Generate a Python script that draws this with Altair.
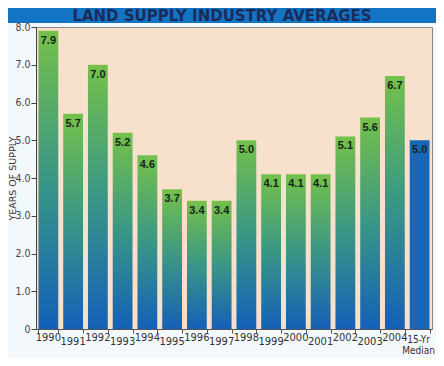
import altair as alt
import pandas as pd

title_text = ["LAND SUPPLY INDUSTRY AVERAGES"]
categories = ["1990", "1991", "1992", "1993", "1994", "1995", "1996", "1997",
              "1998", "1999", "2000", "2001", "2002", "2003", "2004", "15-Yr Median"]
values = [7.9, 5.7, 7.0, 5.2, 4.6, 3.7, 3.4, 3.4, 5.0, 4.1, 4.1, 4.1, 5.1, 5.6, 6.7, 5.0]
kinds = ["year"] * 15 + ["median"]
y_ticks = [0, 1, 2, 3, 4, 5, 6, 7, 8]

df = pd.DataFrame({"cat": categories, "val": values, "kind": kinds,
                   "idx": list(range(len(categories)))})

PL, PT, PR = 28, 19, 4
W, H = 428 - PL - PR, 302
PB = 350 - PT - H
NARROW = "DejaVu Sans Condensed, sans-serif"

x = alt.X("cat:N", sort=categories,
          scale=alt.Scale(paddingInner=0.2, paddingOuter=0.1),
          axis=alt.Axis(title=None, labels=False, ticks=True, tickBand="extent",
                        tickSize=4, tickColor="#555", domainColor="#555"))
y = alt.Y("val:Q", scale=alt.Scale(domain=[0, 8], nice=False),
          axis=alt.Axis(values=y_ticks,
                        labelExpr="datum.value == 0 ? '0' : format(datum.value, '.1f')",
                        title="YEARS OF SUPPLY", titleFont="DejaVu Sans",
                        titleFontSize=9.5, titleFontWeight="normal", titleColor="#333",
                        titleX=-24, titleBaseline="middle",
                        labelFont=NARROW, labelFontSize=10.5,
                        labelColor="#444", labelPadding=1, tickSize=5,
                        tickColor="#444", domainColor="#444", grid=False))

grad = {"gradient": "linear", "x1": 0, "y1": 0, "x2": 0, "y2": 1,
        "stops": [{"offset": 0, "color": "#74c14b"},
                  {"offset": 0.5, "color": "#3a9685"},
                  {"offset": 1, "color": "#1460b8"}]}

base = alt.Chart(df)

bars = base.transform_filter("datum.kind == 'year'").mark_bar(color=grad).encode(x=x, y=y)
median = base.transform_filter("datum.kind == 'median'").mark_bar(color="#1766b8").encode(x=x, y=y)

vals = base.mark_text(baseline="top", dy=4, fontWeight="bold", fontSize=11,
                      font="Liberation Sans", color="#15241a").encode(
    x=x, y=y, text=alt.Text("val:Q", format=".1f"))

lab_even = base.transform_filter("datum.idx % 2 == 0").mark_text(
    baseline="top", dy=3, font=NARROW, fontSize=11, color="#333").encode(
    x=x, y=alt.value(H), text="cat:N")
lab_odd = base.transform_filter("datum.idx % 2 == 1 && datum.kind == 'year'").mark_text(
    baseline="top", dy=7, font=NARROW, fontSize=11, color="#333").encode(
    x=x, y=alt.value(H), text="cat:N")
lab_med = base.transform_filter("datum.kind == 'median'").mark_text(
    baseline="top", dy=6, dx=-1, font=NARROW, fontSize=10, color="#333",
    lineBreak=" ", lineHeight=10.5).encode(
    x=x, y=alt.value(H), text="cat:N")

tdf = pd.DataFrame({"t": title_text})
band = alt.Chart(tdf).mark_rect(color="#1474c4", clip=False).encode(
    x=alt.value(-PL), x2=alt.value(W + PR), y=alt.value(-PT), y2=alt.value(-4))
title = alt.Chart(tdf).mark_text(font="DejaVu Sans", fontWeight="bold", fontSize=15,
                                 color="#1b2b5b", baseline="middle").encode(
    x=alt.value(214 - PL), y=alt.value(-11), text="t:N")

chart = alt.layer(bars, median, vals, lab_even, lab_odd, lab_med, band, title).properties(
    width=W, height=H,
    autosize=alt.AutoSizeParams(type="none"),
    padding={"left": PL, "top": PT, "right": PR, "bottom": PB},
    background="#f3f8fc",
).configure_view(fill="#f8e1cc", stroke="#888", strokeWidth=1)

chart.save("out.html", embed_options={"renderer": "svg", "actions": False})
